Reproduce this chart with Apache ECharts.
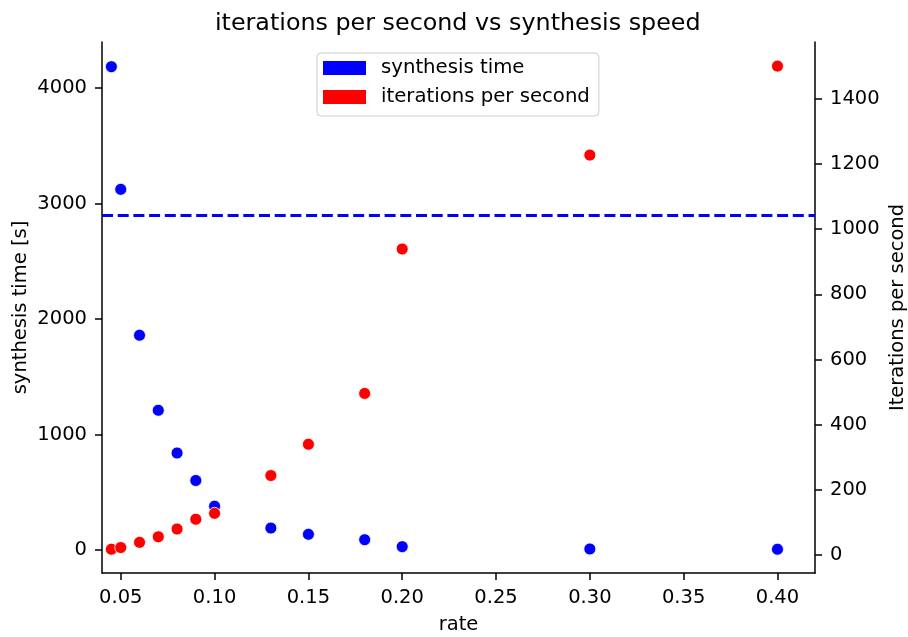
<!DOCTYPE html>
<html>
<head>
<meta charset="utf-8">
<script src="https://cdn.jsdelivr.net/npm/echarts@6/dist/echarts.min.js"></script>
<style>
html,body{margin:0;padding:0;background:#fff;}
#chart{width:908px;height:637px;}
</style>
</head>
<body>
<div id="chart"></div>
<script>
// ---- data ----
const rate = [0.045, 0.05, 0.06, 0.07, 0.08, 0.09, 0.10, 0.13, 0.15, 0.18, 0.20, 0.30, 0.40];
const synthesisTime = [4185, 3123, 1860, 1210, 840, 602, 380, 190, 136, 89, 29, 9, 7];
const iterationsPerSecond = [18, 23, 39, 56, 80, 110, 128, 244, 340, 496, 939, 1227, 1500];
const referenceTime = 2900;
const xTicks = [0.05, 0.10, 0.15, 0.20, 0.25, 0.30, 0.35, 0.40];
const leftTicks = [0, 1000, 2000, 3000, 4000];
const rightTicks = [0, 200, 400, 600, 800, 1000, 1200, 1400];

const FONT = 'DejaVu Sans';
const chart = echarts.init(document.getElementById('chart'), null, {renderer: 'canvas'});

const tickStyle = (vals) => ({show: true, length: 7, inside: false, lineStyle: {color: '#000', width: 1.5}, customValues: vals});
const lineStyle = {show: true, onZero: false, lineStyle: {color: '#000', width: 1.5}};
const nameStyle = {fontFamily: FONT, fontSize: 19.5, color: '#000'};

chart.setOption({
  animation: false,
  backgroundColor: '#fff',
  title: {
    text: 'iterations per second vs synthesis speed',
    left: 210,
    top: 7,
    textStyle: {fontFamily: FONT, fontSize: 23.8, fontWeight: 'normal', color: '#000'}
  },
  legend: {
    orient: 'vertical',
    left: 317,
    top: 53,
    padding: [5, 9, 9, 6],
    itemGap: 9,
    itemWidth: 43,
    itemHeight: 14,
    icon: 'rect',
    borderColor: '#cccccc',
    borderWidth: 1,
    borderRadius: 4,
    backgroundColor: 'rgba(255,255,255,0.8)',
    itemStyle: {borderWidth: 0},
    textStyle: {fontFamily: FONT, fontSize: 19.7, color: '#000', padding: [0, 0, 0, 10]},
    data: ['synthesis time', 'iterations per second']
  },
  grid: {left: 102, right: 93, top: 42, bottom: 64, containLabel: false, outerBoundsMode: 'none'},
  xAxis: {
    type: 'value',
    min: 0.04,
    max: 0.42,
    name: 'rate',
    nameLocation: 'middle',
    nameGap: 42,
    nameMoveOverlap: false,
    nameTextStyle: nameStyle,
    axisLine: lineStyle,
    splitLine: {show: false},
    axisTick: tickStyle(xTicks),
    axisLabel: {
      customValues: xTicks,
      formatter: v => v.toFixed(2),
      fontFamily: FONT, fontSize: 19.5, color: '#000', margin: 15
    }
  },
  yAxis: [
    {
      type: 'value',
      position: 'left',
      min: -199,
      max: 4399,
      name: 'synthesis time [s]',
      nameLocation: 'middle',
      nameRotate: 90,
      nameGap: 71,
      nameMoveOverlap: false,
      nameTextStyle: nameStyle,
      axisLine: lineStyle,
      splitLine: {show: false},
      axisTick: tickStyle(leftTicks),
      axisLabel: {customValues: leftTicks, formatter: v => String(v), fontFamily: FONT, fontSize: 19.5, color: '#000', margin: 15}
    },
    {
      type: 'value',
      position: 'right',
      min: -55,
      max: 1574,
      name: 'Iterations per second',
      nameLocation: 'middle',
      nameRotate: 90,
      nameGap: 73,
      nameMoveOverlap: false,
      nameTextStyle: nameStyle,
      axisLine: lineStyle,
      splitLine: {show: false},
      axisTick: tickStyle(rightTicks),
      axisLabel: {customValues: rightTicks, formatter: v => String(v), fontFamily: FONT, fontSize: 19.5, color: '#000', margin: 15}
    }
  ],
  series: [
    {
      name: 'synthesis time',
      type: 'scatter',
      yAxisIndex: 0,
      symbol: 'circle',
      symbolSize: 12,
      itemStyle: {color: '#0000ff', borderColor: '#fff', borderWidth: 0.8, opacity: 1},
      data: rate.map((r, i) => [r, synthesisTime[i]]),
      markLine: {
        silent: true,
        symbol: 'none',
        label: {show: false},
        lineStyle: {color: '#0000ff', width: 3, type: [11, 4.7]},
        data: [{yAxis: referenceTime}]
      },
      z: 2
    },
    {
      name: 'iterations per second',
      type: 'scatter',
      yAxisIndex: 1,
      symbol: 'circle',
      symbolSize: 12,
      itemStyle: {color: '#ff0000', borderColor: '#fff', borderWidth: 0.8, opacity: 1},
      data: rate.map((r, i) => [r, iterationsPerSecond[i]]),
      z: 3
    }
  ]
});
</script>
</body>
</html>
